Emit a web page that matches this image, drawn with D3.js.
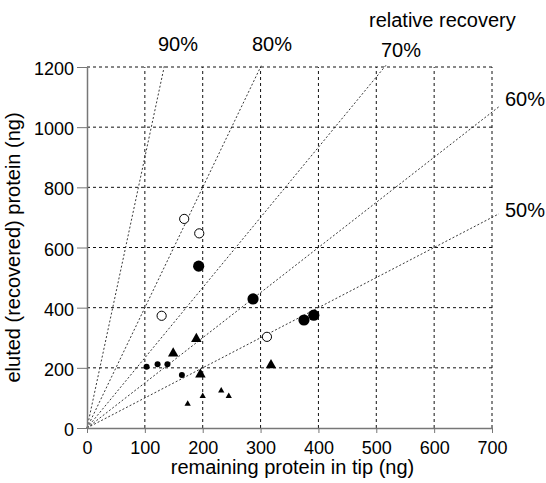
<!DOCTYPE html>
<html>
<head>
<meta charset="utf-8">
<script src="https://cdn.jsdelivr.net/npm/d3@7"></script>
<style>
  html, body { margin: 0; padding: 0; background: #fff; }
  svg { display: block; font-family: "Liberation Sans", Arial, sans-serif; }
</style>
</head>
<body>
<svg id="chart"></svg>
<script>
// values: [remaining in tip, eluted] in ng
const openCircles = [[168, 695], [194, 647], [129, 373], [311, 303]]
const bigDots = [[193, 538], [287, 429], [375, 359], [392, 375]]
const smallDots = [[103, 204], [122, 212], [139, 212], [164, 176]]
const bigTriangles = [[149, 248], [189, 296], [196, 178], [318, 209]]
const smallTriangles = [[174, 80], [200, 106], [232, 124], [245, 106]]

const recoveries = [0.9, 0.8, 0.7, 0.6, 0.5]
const recoveryLabels = ['90%', '80%', '70%', '60%', '50%']
const xTicks = [0, 100, 200, 300, 400, 500, 600, 700]
const yTicks = [0, 200, 400, 600, 800, 1000, 1200]

const width = 546
const height = 483
const margin = { top: 67, right: 54, bottom: 55, left: 87 }

const svg = d3.select('#chart').attr('width', width).attr('height', height)

const x = d3.scaleLinear().domain([0, 700]).range([margin.left, width - margin.right])
const y = d3.scaleLinear().domain([0, 1200]).range([height - margin.bottom, margin.top])

// grid
svg.append('g')
  .selectAll('line')
  .data(xTicks.slice(1))
  .join('line')
  .attr('x1', d => x(d)).attr('x2', d => x(d))
  .attr('y1', y(0)).attr('y2', y(1200))
  .attr('stroke', '#111').attr('stroke-width', 1).attr('stroke-dasharray', '3,3')

svg.append('g')
  .selectAll('line')
  .data(yTicks.slice(1))
  .join('line')
  .attr('x1', x(0)).attr('x2', x(700))
  .attr('y1', d => y(d)).attr('y2', d => y(d))
  .attr('stroke', '#111').attr('stroke-width', 1).attr('stroke-dasharray', '3,3')

// relative recovery lines: eluted = remaining * r / (1 - r)
const lineMaxX = 712
const lineMaxY = 1208
svg.append('g')
  .selectAll('line')
  .data(recoveries)
  .join('line')
  .attr('x1', x(0)).attr('y1', y(0))
  .attr('x2', r => {
    const k = r / (1 - r)
    return x(Math.min(lineMaxX, lineMaxY / k))
  })
  .attr('y2', r => {
    const k = r / (1 - r)
    return y(Math.min(lineMaxY, lineMaxX * k))
  })
  .attr('stroke', '#222').attr('stroke-width', 0.9).attr('stroke-dasharray', '2,2')

// axes
const xAxis = svg.append('g')
  .attr('transform', `translate(0,${y(0)})`)
  .call(d3.axisBottom(x).tickValues(xTicks).tickFormat(d3.format('d'))
    .tickSizeInner(5).tickSizeOuter(0).tickPadding(8))
const yAxis = svg.append('g')
  .attr('transform', `translate(${x(0)},0)`)
  .call(d3.axisLeft(y).tickValues(yTicks).tickFormat(d3.format('d'))
    .tickSizeInner(10).tickSizeOuter(0).tickPadding(3))

;[xAxis, yAxis].forEach(g => {
  g.select('.domain').attr('stroke', '#777').attr('stroke-width', 1.5)
  g.selectAll('.tick line').attr('stroke', '#777')
  g.selectAll('.tick text')
    .attr('fill', '#000')
    .style('font-size', '18px')
    .style('font-family', '"Liberation Sans", Arial, sans-serif')
})
yAxis.selectAll('.tick text').attr('dy', '0.42em')

// markers
const black = '#000'
const pts = svg.append('g')

pts.selectAll('.open')
  .data(openCircles)
  .join('circle')
  .attr('cx', d => x(d[0])).attr('cy', d => y(d[1]))
  .attr('r', 4.6)
  .attr('fill', '#fff').attr('stroke', black).attr('stroke-width', 1)

pts.selectAll('.big')
  .data(bigDots)
  .join('circle')
  .attr('cx', d => x(d[0])).attr('cy', d => y(d[1]))
  .attr('r', 5.6)
  .attr('fill', black)

pts.selectAll('.small')
  .data(smallDots)
  .join('circle')
  .attr('cx', d => x(d[0])).attr('cy', d => y(d[1]))
  .attr('r', 3)
  .attr('fill', black)

const bigTri = d3.symbol(d3.symbolTriangle, 48)
const smallTri = d3.symbol(d3.symbolTriangle, 17)

pts.selectAll('.bigtri')
  .data(bigTriangles)
  .join('path')
  .attr('transform', d => `translate(${x(d[0])},${y(d[1])})`)
  .attr('d', bigTri)
  .attr('fill', black)

pts.selectAll('.smalltri')
  .data(smallTriangles)
  .join('path')
  .attr('transform', d => `translate(${x(d[0])},${y(d[1])})`)
  .attr('d', smallTri)
  .attr('fill', black)

// labels
const labelPos = [[158, 51], [252, 51], [381, 57], [505, 106], [505, 217]]
svg.append('g')
  .selectAll('text')
  .data(recoveryLabels)
  .join('text')
  .attr('x', (d, i) => labelPos[i][0])
  .attr('y', (d, i) => labelPos[i][1])
  .style('font-size', '20px')
  .text(d => d)

svg.append('text')
  .attr('x', 369).attr('y', 27)
  .style('font-size', '20px')
  .text('relative recovery')

svg.append('text')
  .attr('x', (x(0) + x(700)) / 2 + 3)
  .attr('y', 474)
  .attr('text-anchor', 'middle')
  .style('font-size', '20px')
  .text('remaining protein in tip (ng)')

svg.append('text')
  .attr('transform', `translate(20,${(y(0) + y(1200)) / 2}) rotate(-90)`)
  .attr('text-anchor', 'middle')
  .style('font-size', '20px')
  .text('eluted (recovered) protein (ng)')
</script>
</body>
</html>
